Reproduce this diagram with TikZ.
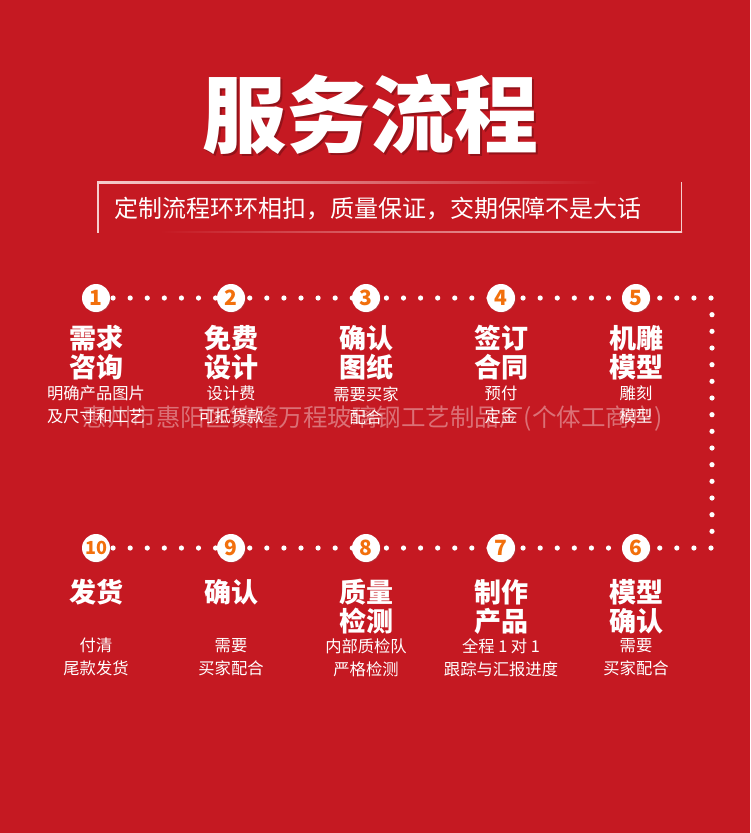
\documentclass[tikz,border=0pt]{standalone}
\usepackage{fontspec}
\newfontfamily\cjk{Noto Sans CJK SC}
\usetikzlibrary{shadows}
\definecolor{bg}{RGB}{197,25,34}
\definecolor{numorange}{RGB}{242,112,12}
\definecolor{framepink}{RGB}{245,205,205}
\begin{document}
\begin{tikzpicture}[x=1pt,y=-1pt,
  steptitle/.style={text=white,font=\cjk\bfseries\fontsize{27}{29}\selectfont,align=center,inner sep=0,anchor=north},
  stepsub/.style={text=white,font=\cjk\fontsize{16.3}{23}\selectfont,align=center,inner sep=0,anchor=north},
  numc/.style={circle,fill=white,minimum size=28pt,inner sep=0,text=numorange,
    font=\cjk\bfseries\fontsize{21}{21}\selectfont,
    drop shadow={opacity=0.25,shadow xshift=0.8pt,shadow yshift=-0.8pt}},
  dotc/.style={fill=white},
  wmark/.style={text=white,opacity=0.38,font=\cjk\fontsize{24.5}{25}\selectfont,inner sep=0}]
\fill[bg] (0,0) rectangle (750,833);
\useasboundingbox (0,0) rectangle (750,833);

% title
\node[text=black,opacity=0.25,font=\cjk\bfseries\fontsize{84}{84}\selectfont,inner sep=0] (titleshadow) at (372,117) {服务流程};
\node[text=white,font=\cjk\bfseries\fontsize{84}{84}\selectfont,inner sep=0] (title) at (370,115) {服务流程};

% subtitle frame
\shade[left color=framepink,right color=bg] (97,181.5) rectangle (600,183);
\shade[left color=bg,right color=framepink] (160,231) rectangle (682,232.5);
\fill[framepink] (97,181.5) rectangle (98.5,232.5);
\fill[framepink] (680.5,181.5) rectangle (682,232.5);
\node[text=white,font=\cjk\fontsize{24}{24}\selectfont,inner sep=0] (subtitle) at (378,209) {定制流程环环相扣，质量保证，交期保障不是大话};

% dotted path
\foreach \i in {0,...,36} \fill[dotc] ({96+\i*17.0833},298) circle (2.6);
\foreach \i in {1,...,14} \fill[dotc] (712,{298+\i*16.6667}) circle (2.6);
\foreach \i in {0,...,36} \fill[dotc] ({96+\i*17.0833},548) circle (2.6);

% circles row 1
\node[numc] (n1) at (96,298) {1};
\node[numc] (n2) at (231,298) {2};
\node[numc] (n3) at (366,298) {3};
\node[numc] (n4) at (501,298) {4};
\node[numc] (n5) at (636,298) {5};
% circles row 2
\node[numc] (n6) at (636,548) {6};
\node[numc] (n7) at (501,548) {7};
\node[numc] (n8) at (366,548) {8};
\node[numc] (n9) at (231,548) {9};
\node[numc,font=\cjk\bfseries\fontsize{18}{18}\selectfont] (n10) at (96,548) {10};

% row 1 texts
\node[steptitle] (t1) at (96,325) {需求\\咨询};
\node[steptitle] (t2) at (231,325) {免费\\设计};
\node[steptitle] (t3) at (366,325) {确认\\图纸};
\node[steptitle] (t4) at (501,325) {签订\\合同};
\node[steptitle] (t5) at (636,325) {机雕\\模型};
\node[stepsub] (s1) at (96,386) {明确产品图片\\及尺寸和工艺};
\node[stepsub] (s2) at (231,386) {设计费\\可抵货款};
\node[stepsub] (s3) at (366,386) {需要买家\\配合};
\node[stepsub] (s4) at (501,386) {预付\\定金};
\node[stepsub] (s5) at (636,386) {雕刻\\模型};

% row 2 texts
\node[steptitle] (t10) at (96,579) {发货};
\node[steptitle] (t9) at (231,579) {确认};
\node[steptitle] (t8) at (366,579) {质量\\检测};
\node[steptitle] (t7) at (501,579) {制作\\产品};
\node[steptitle] (t6) at (636,579) {模型\\确认};
\node[stepsub] (s10) at (96,638) {付清\\尾款发货};
\node[stepsub] (s9) at (231,638) {需要\\买家配合};
\node[stepsub] (s8) at (366,638) {内部质检队\\严格检测};
\node[stepsub] (s7) at (501,638) {全程 1 对 1\\跟踪与汇报进度};
\node[stepsub] (s6) at (636,638) {需要\\买家配合};

% watermark
\node[wmark] (wm) at (373,419) {惠州市惠阳区镇隆万程玻璃钢工艺制品厂(个体工商户)};
\end{tikzpicture}
\end{document}
